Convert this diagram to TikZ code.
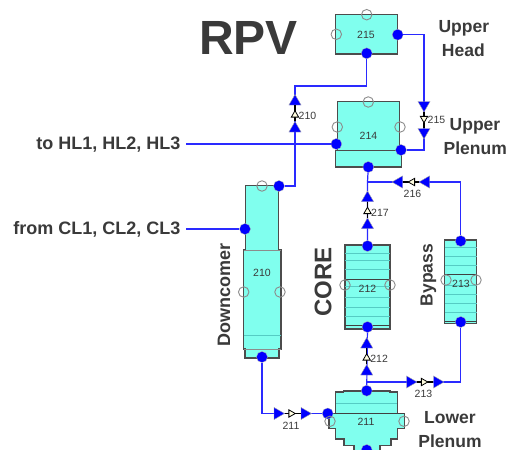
\documentclass[tikz,border=0pt]{standalone}
\usepackage{fontspec}
\setmainfont{Liberation Sans}
\usetikzlibrary{shapes.geometric}
\definecolor{vol}{HTML}{80FFEE}
\definecolor{pipe}{HTML}{2A2AFF}
\definecolor{txt}{HTML}{3A3A3A}
\definecolor{band}{HTML}{55CCC4}
\newcommand{\fs}[1]{\fontsize{#1}{#1}\selectfont}
\tikzset{x=1pt,y=-1pt,
 volbox/.style={draw=black!70,fill=vol,line width=1.1pt},
 thin band/.style={draw=band,line width=0.8pt},
 sep line/.style={draw=black!75,line width=0.9pt},
 port/.style={circle,fill=blue,draw=black!30,line width=0.3pt,minimum size=11pt,inner sep=0pt},
 free port/.style={circle,draw=black!45,line width=0.9pt,minimum size=10.5pt,inner sep=0pt},
 flow/.style={draw=pipe,line width=1.2pt},
 tri/.style={regular polygon,regular polygon sides=3,fill=blue,draw=black!35,line width=0.4pt,minimum size=14pt,inner sep=0pt,shape border rotate=#1},
 valve/.style={regular polygon,regular polygon sides=3,fill=yellow!12,draw=black,line width=0.8pt,minimum size=8.5pt,inner sep=0pt,shape border rotate=#1},
 stub/.style={draw=black,line width=1.1pt},
 num/.style={font=\fs{10.5},text=txt,inner sep=0pt},
 title/.style={font=\fs{17.5}\bfseries,text=txt,inner sep=0pt},
 side title/.style={font=\fs{18}\bfseries,text=txt,inner sep=0pt},
}
\begin{document}
\begin{tikzpicture}
\useasboundingbox (0,0) rectangle (509,450);
% volumes
\draw[volbox] (335.7,14.3) rectangle (397.3,54);
\draw[volbox] (335.7,150.5) rectangle (401.3,167);
\draw[volbox] (337.3,101.5) rectangle (399.3,150.5);
% 210
\draw[volbox] (245.7,185.7) -- (278.7,185.7) -- (278.7,250) -- (281,250) -- (281,349) -- (279,349) -- (279,358) -- (245,358) -- (245,349) -- (243.7,349) -- (243.7,250) -- (245.7,250) -- cycle;
\draw[thin band] (243.7,335) -- (281,335);
\draw[black!45,line width=0.6pt] (243.7,250) -- (281,250) (243.7,349) -- (281,349);
% 212
\draw[volbox] (345,245) rectangle (390,329);
\foreach \y in {253,260.7,269.7,286.7,297.7,307.3,316.7} \draw[thin band] (345,\y) -- (390,\y);
\draw[sep line] (345,279) -- (390,279);
\draw[sep line] (345,325.7) -- (390,325.7);
% 213
\draw[volbox] (444.7,240) rectangle (476.7,323.3);
\foreach \y in {247.7,256.7,265.7,285,294,303.3,312.7} \draw[thin band] (444.7,\y) -- (476.7,\y);
\draw[sep line] (444.7,274.3) -- (476.7,274.3);
\draw[sep line] (444.7,321) -- (476.7,321);
% 211
\draw[volbox] (343.5,391) -- (390,391) -- (390,392) -- (397.3,392) -- (397.3,413.3) -- (404.3,413.3) -- (404.3,428.3) -- (397.3,428.3) -- (397.3,439) -- (391,439) -- (391,445.7) -- (380,445.7) -- (380,453) -- (354,453) -- (354,445.7) -- (344,445.7) -- (344,439) -- (335.7,439) -- (335.7,428.3) -- (329,428.3) -- (329,413.3) -- (335.7,413.3) -- (335.7,392) -- (343.5,392) -- cycle;
\draw[thin band] (335.7,403) -- (397.3,403);
\draw[sep line] (329,413.3) -- (404.3,413.3);
% ports
\node[port] (p215r) at (397.7,34.7) {};
\node[port] (p215b) at (366.7,53.3) {};
\node[free port] (g215t) at (366.7,14.7) {};
\node[free port] (g215l) at (336.3,34.3) {};
\node[port] (p214l) at (336.3,144) {};
\node[port] (p214r) at (401,150) {};
\node[port] (p214b) at (368.3,167) {};
\node[free port] (g214t) at (368.3,102) {};
\node[free port] (g214l) at (337.3,127) {};
\node[free port] (g214r) at (400,127) {};
\node[port] (p210t) at (279,186) {};
\node[port] (p210l) at (245,229) {};
\node[port] (p210b) at (262,357) {};
\node[free port] (g210t) at (262,186) {};
\node[free port] (g210l) at (243.7,292) {};
\node[free port] (g210r) at (280,292) {};
\node[port] (p212t) at (367.5,246) {};
\node[port] (p212b) at (367.5,327) {};
\node[free port] (g212l) at (345,285) {};
\node[free port] (g212r) at (390,285) {};
\node[port] (p213t) at (460.7,241) {};
\node[port] (p213b) at (460.7,322) {};
\node[free port] (g213l) at (446,280) {};
\node[free port] (g213r) at (476,280) {};
\node[port] (p211t) at (366.7,390.7) {};
\node[port] (p211l) at (327.7,413.5) {};
\node[port] (p211b) at (366.7,450) {};
\node[free port] (g211l) at (330,421.3) {};
\node[free port] (g211r) at (404,421.3) {};
% free ends and corners
\coordinate (hl) at (186,144);
\coordinate (cl) at (186,229);
\coordinate (a1) at (366.7,86);
\coordinate (a2) at (295,86);
\coordinate (a3) at (295,186);
\coordinate (b1) at (424,34.7);
\coordinate (b2) at (424,150);
\coordinate (j1) at (367.5,182);
\coordinate (c1) at (460.7,182);
\coordinate (j2) at (366.7,382);
\coordinate (d1) at (460.7,382);
\coordinate (e1) at (262,413.5);
% connectors
\draw[flow] (hl) -- (p214l);
\draw[flow] (cl) -- (p210l);
\draw[flow] (p215b) -- (a1) -- (a2) -- (a3) -- (p210t);
\draw[flow] (p215r) -- (b1) -- (b2) -- (p214r);
\draw[flow] (p214b) -- (j1) -- (p212t);
\draw[flow] (j1) -- (c1) -- (p213t);
\draw[flow] (p212b) -- (p211t);
\draw[flow] (j2) -- (d1) -- (p213b);
\draw[flow] (p210b) -- (e1) -- (p211l);
% valves
\newcommand{\valvev}[4]{% x, y, rotation, label
 \node[tri=#3] (t#4a) at (#1,#2-13.5) {};
 \node[tri=#3] (t#4b) at (#1,#2+13.5) {};
 \draw[stub] (t#4a) -- (t#4b);
 \node[valve=#3] (v#4) at (#1,#2) {};
 \node[num,anchor=west] (l#4) at (#1+3.5,#2+1) {#4};
}
\newcommand{\valveh}[4]{% x, y, rotation, label
 \node[tri=#3] (t#4a) at (#1-13.5,#2) {};
 \node[tri=#3] (t#4b) at (#1+13.5,#2) {};
 \draw[stub] (t#4a) -- (t#4b);
 \node[valve=#3] (v#4) at (#1,#2) {};
 \node[num] (l#4) at (#1,#2+12) {#4};
}
\valvev{295}{115}{0}{210}
\valvev{424}{118.5}{180}{215}
\valvev{367.5}{211.5}{0}{217}
\valvev{366.7}{358}{0}{212}
\valveh{412.5}{182}{90}{216}
\valveh{423.5}{382}{-90}{213}
\valveh{291}{413.5}{-90}{211}
% numbers
\node[num] (n215) at (366,35) {215};
\node[num] (n214) at (368.5,136) {214};
\node[num] (n210) at (262,273) {210};
\node[num] (n212) at (367.5,289) {212};
\node[num] (n213) at (461,284) {213};
\node[num] (n211) at (366,421.5) {211};
% titles
\node[font=\fs{48}\bfseries,text=txt,inner sep=0pt] (rpv) at (248.5,37.5) {RPV};
\node[title] (uh1) at (463.8,28) {Upper};
\node[title] (uh2) at (463.3,50) {Head};
\node[title] (up1) at (475,126) {Upper};
\node[title] (up2) at (475.3,148) {Plenum};
\node[title] (lp1) at (450,417.5) {Lower};
\node[title] (lp2) at (450,441) {Plenum};
\node[side title,anchor=east] (to) at (180.5,144.5) {to HL1, HL2, HL3};
\node[side title,anchor=east] (from) at (180.5,229.8) {from CL1, CL2, CL3};
\node[title,rotate=90,font=\fs{18}\bfseries] (dc) at (224,295) {Downcomer};
\node[title,rotate=90,font=\fs{24}\bfseries] (core) at (323,282) {CORE};
\node[title,rotate=90,font=\fs{17.5}\bfseries] (by) at (428.5,275) {Bypass};
\end{tikzpicture}
\end{document}
